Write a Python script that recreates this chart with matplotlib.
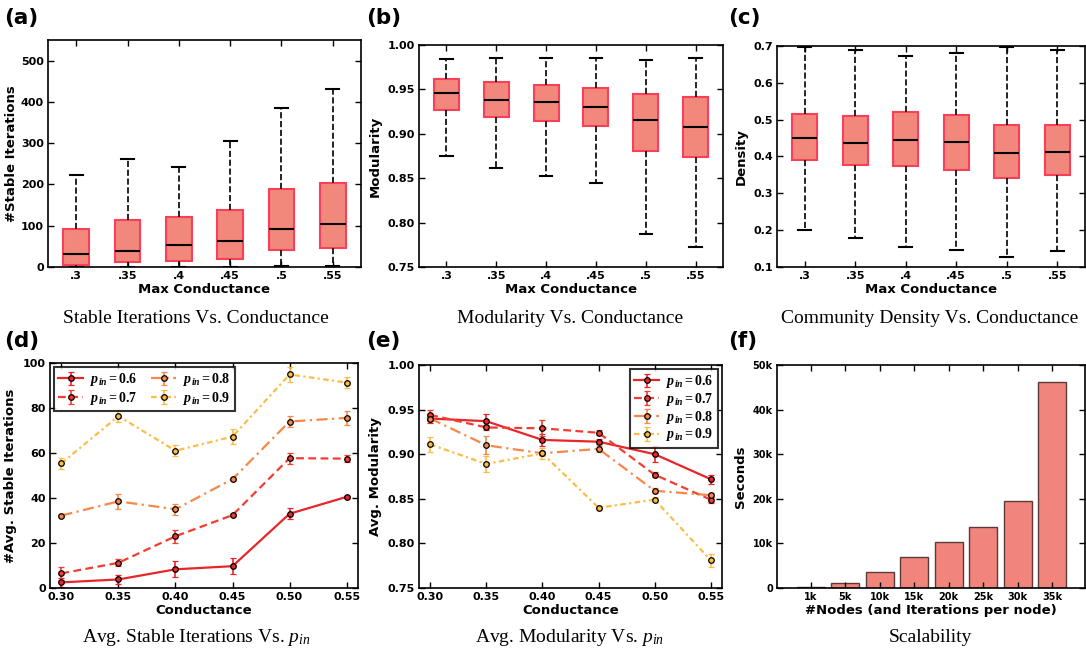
import numpy as np
import matplotlib
matplotlib.use("Agg")
import matplotlib.pyplot as plt
from matplotlib.ticker import FuncFormatter

plt.rcParams['font.family'] = ['DejaVu Sans']
plt.rcParams['font.weight'] = 'bold'
plt.rcParams['mathtext.fontset'] = 'custom'
plt.rcParams['mathtext.rm'] = 'Liberation Serif:weight=normal'
plt.rcParams['mathtext.it'] = 'Liberation Serif:style=italic:weight=normal'
plt.rcParams['mathtext.bf'] = 'Liberation Serif:weight=bold'
plt.rcParams['mathtext.bfit'] = 'Liberation Serif:style=italic:weight=bold'

# ---- data ----
cond_labels = ['.3', '.35', '.4', '.45', '.5', '.55']

# (a) stable iterations boxes
a_lo = [1, 1, 1, 1, 2, 2]
a_q1 = [6, 12, 15, 19, 40, 47]
a_med = [32, 38, 53, 63, 92, 103]
a_q3 = [93, 114, 120, 138, 188, 203]
a_hi = [222, 262, 243, 306, 386, 431]

# (b) modularity boxes
b_lo = [0.875, 0.862, 0.853, 0.845, 0.787, 0.772]
b_q1 = [0.927, 0.919, 0.914, 0.909, 0.881, 0.874]
b_med = [0.946, 0.938, 0.936, 0.930, 0.915, 0.908]
b_q3 = [0.962, 0.958, 0.955, 0.952, 0.945, 0.942]
b_hi = [0.984, 0.985, 0.985, 0.985, 0.983, 0.985]

# (c) density boxes
c_lo = [0.200, 0.178, 0.155, 0.145, 0.127, 0.143]
c_q1 = [0.390, 0.376, 0.373, 0.364, 0.342, 0.349]
c_med = [0.449, 0.437, 0.444, 0.440, 0.410, 0.413]
c_q3 = [0.516, 0.510, 0.522, 0.512, 0.486, 0.486]
c_hi = [0.698, 0.688, 0.672, 0.681, 0.697, 0.690]

# (d) / (e) line charts
conductance = [0.30, 0.35, 0.40, 0.45, 0.50, 0.55]
p_in = ['6', '7', '8', '9']
d_mean = [[2.5, 3.8, 8.3, 9.7, 33.0, 40.5],
          [6.5, 11.2, 23.0, 32.4, 57.7, 57.5],
          [32.2, 38.5, 35.0, 48.4, 74.0, 75.6],
          [55.4, 76.4, 61.0, 67.3, 94.9, 91.3]]
d_err = [[2.0, 2.0, 3.5, 3.5, 2.5, 0.5],
         [3.0, 1.5, 3.0, 0.5, 2.5, 1.5],
         [0.5, 3.5, 2.5, 0.5, 2.5, 3.0],
         [2.5, 2.5, 2.5, 3.5, 3.5, 2.5]]
e_mean = [[0.940, 0.937, 0.916, 0.914, 0.900, 0.872],
          [0.944, 0.930, 0.929, 0.924, 0.877, 0.849],
          [0.940, 0.910, 0.901, 0.906, 0.859, 0.854],
          [0.911, 0.889, 0.901, 0.840, 0.849, 0.781]]
e_err = [[0.005, 0.008, 0.007, 0.003, 0.009, 0.005],
         [0.006, 0.003, 0.009, 0.003, 0.003, 0.004],
         [0.003, 0.010, 0.002, 0.003, 0.003, 0.002],
         [0.008, 0.009, 0.006, 0.002, 0.003, 0.007]]

# (f) scalability
nodes = ['1k', '5k', '10k', '15k', '20k', '25k', '30k', '35k']
seconds = [250, 1100, 3500, 7000, 10400, 13600, 19600, 46300]

line_colors = ['#e8262a', '#f43c32', '#f7874a', '#fbbd45']
line_styles = ['-', (0, (3.5, 2)), (0, (5, 2, 1, 2)), (0, (2.5, 1.5, 1, 1.5))]

box_face = '#f2877b'
box_edge = '#fa3f5a'

fig = plt.figure(figsize=(10.86, 6.52), dpi=100)
W, H = 1086.0, 652.0


def px_axes(x0, y0, x1, y1):
    return fig.add_axes([x0 / W, 1 - y1 / H, (x1 - x0) / W, (y1 - y0) / H])


def style(ax, tsize=8):
    ax.tick_params(direction='in', top=True, right=True, labelsize=tsize,
                   length=4, width=1, pad=3)
    for s in ax.spines.values():
        s.set_linewidth(1.2)


def boxes(ax, lo, q1, med, q3, hi):
    stats = []
    for i in range(len(med)):
        stats.append(dict(whislo=lo[i], q1=q1[i], med=med[i], q3=q3[i],
                          whishi=hi[i], label=cond_labels[i]))
    ax.bxp(stats, showfliers=False, patch_artist=True, widths=0.5,
           boxprops=dict(facecolor=box_face, edgecolor=box_edge, linewidth=1.5),
           medianprops=dict(color='black', linewidth=1.5),
           whiskerprops=dict(color='black', linestyle='--', linewidth=1.2),
           capprops=dict(color='black', linewidth=1.5))
    ax.set_xlim(0.45, 6.55)
    ax.set_xlabel('Max Conductance', fontsize=9.5, fontweight='bold', labelpad=1)
    style(ax)


# (a)
ax = px_axes(48, 40, 361, 267)
boxes(ax, a_lo, a_q1, a_med, a_q3, a_hi)
ax.set_ylim(0, 550)
ax.set_yticks([0, 100, 200, 300, 400, 500])
ax.set_ylabel('#Stable Iterations', fontsize=9.5, fontweight='bold', labelpad=2)

# (b)
ax = px_axes(419, 45, 723, 267)
boxes(ax, b_lo, b_q1, b_med, b_q3, b_hi)
ax.set_ylim(0.75, 1.00)
ax.set_yticks(np.arange(0.75, 1.001, 0.05))
ax.yaxis.set_major_formatter(FuncFormatter(lambda v, p: '%.2f' % v))
ax.set_ylabel('Modularity', fontsize=9.5, fontweight='bold')

# (c)
ax = px_axes(777, 46, 1085, 267)
boxes(ax, c_lo, c_q1, c_med, c_q3, c_hi)
ax.set_ylim(0.1, 0.7)
ax.set_yticks(np.arange(0.1, 0.701, 0.1))
ax.yaxis.set_major_formatter(FuncFormatter(lambda v, p: '%.1f' % v))
ax.set_ylabel('Density', fontsize=9.5, fontweight='bold')


def lines(ax, means, errs):
    for i in range(len(p_in)):
        ax.errorbar(conductance, means[i], yerr=errs[i], color=line_colors[i],
                    linestyle=line_styles[i], linewidth=1.6, marker='o',
                    markersize=4, markerfacecolor=line_colors[i],
                    markeredgecolor='black', markeredgewidth=0.9,
                    capsize=2.5, elinewidth=1.2, capthick=1.2,
                    label=r'$\mathbfit{p}_{\mathbfit{in}}\mathbf{=0.%s}$' % p_in[i])
    ax.set_xlim(0.29, 0.56)
    ax.set_xticks(conductance)
    ax.xaxis.set_major_formatter(FuncFormatter(lambda v, p: '%.2f' % v))
    ax.set_xlabel('Conductance', fontsize=9.5, fontweight='bold', labelpad=1)
    style(ax)


# (d)
ax = px_axes(50, 363, 358, 588)
lines(ax, d_mean, d_err)
ax.set_ylim(0, 100)
ax.set_ylabel('#Avg. Stable Iterations', fontsize=9.5, fontweight='bold')
leg = ax.legend(loc='upper left', ncol=2, fontsize=10, handlelength=1.8,
                fancybox=False, edgecolor='black', borderaxespad=0.3,
                borderpad=0.3, columnspacing=1.0, labelspacing=0.1,
                handletextpad=0.5)
leg.get_frame().set_linewidth(1.5)

# (e)
ax = px_axes(419, 365, 722, 588)
lines(ax, e_mean, e_err)
ax.set_ylim(0.75, 1.00)
ax.set_yticks(np.arange(0.75, 1.001, 0.05))
ax.yaxis.set_major_formatter(FuncFormatter(lambda v, p: '%.2f' % v))
ax.set_ylabel('Avg. Modularity', fontsize=9.5, fontweight='bold')
leg = ax.legend(loc='upper right', ncol=1, fontsize=10, handlelength=1.8,
                fancybox=False, edgecolor='black', borderaxespad=0.3,
                borderpad=0.3, labelspacing=0.05, handletextpad=0.5)
leg.get_frame().set_linewidth(1.5)

# (f)
ax = px_axes(777, 365, 1085, 588)
xpos = np.arange(len(nodes))
ax.bar(xpos, seconds, width=0.8, color='#f2857b', edgecolor='#5a3a3a',
       linewidth=1.0)
ax.set_xticks(xpos)
ax.set_xticklabels(nodes)
ax.set_xlim(-0.98, 7.95)
ax.set_ylim(0, 50000)
ax.set_yticks([0, 10000, 20000, 30000, 40000, 50000])
ax.yaxis.set_major_formatter(FuncFormatter(lambda v, p: '0' if v == 0 else '%dk' % (v / 1000)))
ax.set_ylabel('Seconds', fontsize=9.5, fontweight='bold')
ax.set_xlabel('#Nodes (and Iterations per node)', fontsize=9.5,
              fontweight='bold', labelpad=1)
style(ax, tsize=7)

# panel letters
for lab, x, y in [('(a)', 4, 18), ('(b)', 366, 18), ('(c)', 728, 18),
                  ('(d)', 4, 341), ('(e)', 366, 341), ('(f)', 728, 341)]:
    fig.text(x / W, 1 - y / H, lab, fontsize=15.5, fontweight='bold', va='center')

# captions
caps_top = ['Stable Iterations Vs. Conductance', 'Modularity Vs. Conductance',
            'Community Density Vs. Conductance']
caps_bot = [r'Avg. Stable Iterations Vs. $p_{in}$',
            r'Avg. Modularity Vs. $p_{in}$',
            'Scalability']
cx = [196, 570, 930]
for i in range(3):
    fig.text(cx[i] / W, 1 - 318 / H, caps_top[i], fontsize=14,
             family='Liberation Serif', fontweight='normal', ha='center', va='center')
    fig.text(cx[i] / W, 1 - 637 / H, caps_bot[i], fontsize=14,
             family='Liberation Serif', fontweight='normal', ha='center', va='center')

fig.savefig('out.png', dpi=100)
